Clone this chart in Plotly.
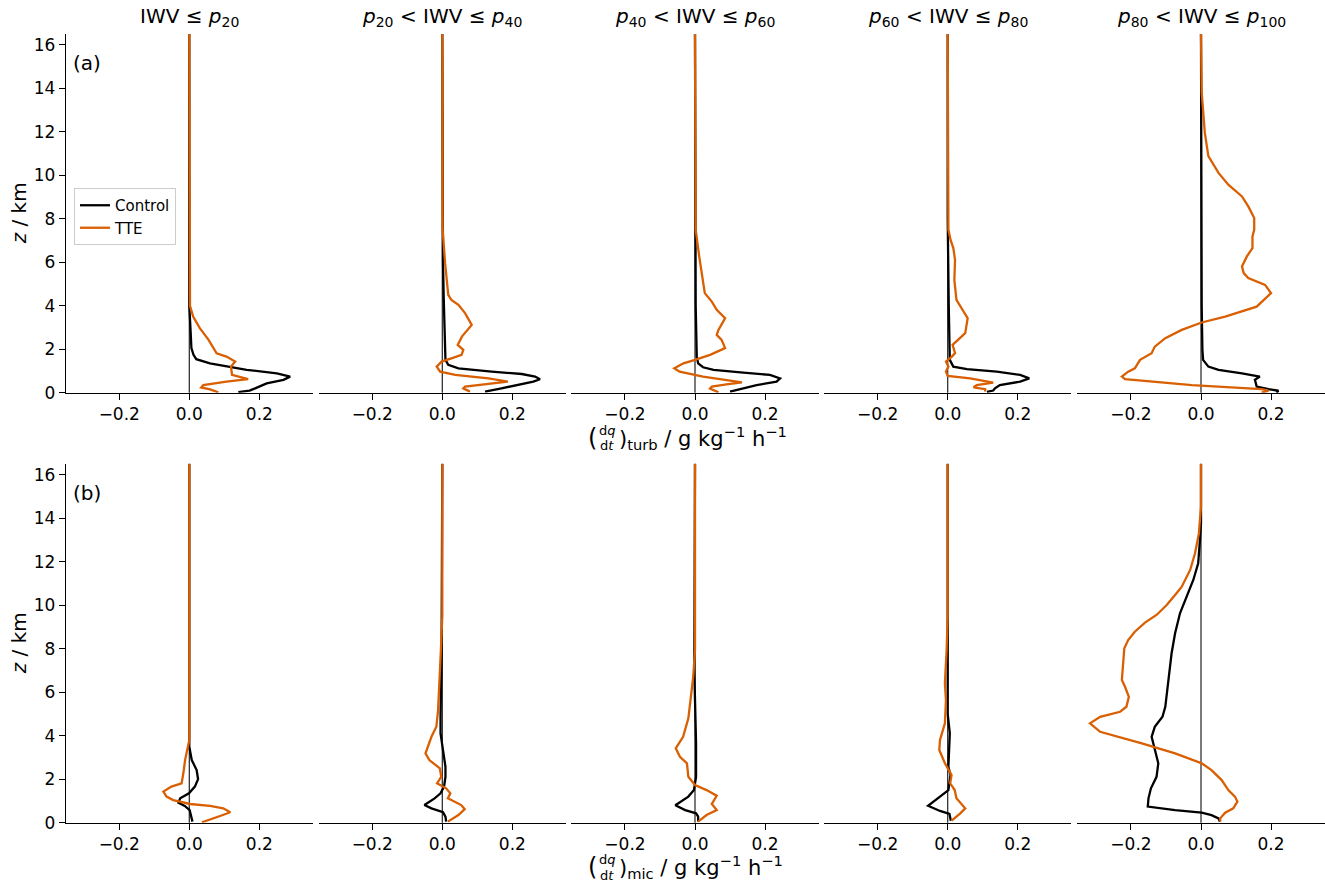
import plotly.graph_objects as go

# ---------------------------------------------------------------------------
# Profiles of moisture tendency vs height, binned by IWV percentile
# ---------------------------------------------------------------------------
bin_titles = [
    "IWV ≤ <i>p</i><sub>20</sub>",
    "<i>p</i><sub>20</sub> < IWV ≤ <i>p</i><sub>40</sub>",
    "<i>p</i><sub>40</sub> < IWV ≤ <i>p</i><sub>60</sub>",
    "<i>p</i><sub>60</sub> < IWV ≤ <i>p</i><sub>80</sub>",
    "<i>p</i><sub>80</sub> < IWV ≤ <i>p</i><sub>100</sub>",
]
x_ticks = [-0.2, 0.0, 0.2]
z_ticks = [0, 2, 4, 6, 8, 10, 12, 14, 16]

# ---- turbulence tendency (g kg-1 h-1) ----
turb_ctrl_p20_z = [16.5, 8, 4.0, 2.74, 2.05, 1.74, 1.54, 1.35, 1.2, 1.05, 0.89, 0.74, 0.59, 0.43, 0.2, 0.1, 0.03]
turb_ctrl_p20 = [0, 0, 0, 0.004, 0.006, 0.012, 0.02, 0.059, 0.106, 0.164, 0.25, 0.288, 0.269, 0.221, 0.188, 0.172, 0.14]
turb_tte_p20_z = [16.5, 8, 4.0, 3.5, 2.97, 2.43, 1.81, 1.66, 1.43, 1.2, 0.82, 0.62, 0.51, 0.35, 0.24, 0.15, 0.02]
turb_tte_p20 = [0, 0, 0.002, 0.011, 0.03, 0.055, 0.078, 0.106, 0.131, 0.119, 0.122, 0.168, 0.106, 0.04, 0.034, 0.059, 0.083]

turb_ctrl_p40_z = [16.5, 8, 6, 4.4, 2.5, 1.51, 1.28, 1.12, 0.97, 0.86, 0.74, 0.62, 0.51, 0.35, 0.2, 0.05]
turb_ctrl_p40 = [0, 0, 0.002, 0.004, 0.006, 0.009, 0.017, 0.046, 0.141, 0.227, 0.265, 0.279, 0.26, 0.208, 0.169, 0.122]
turb_tte_p40_z = [16.5, 7.5, 5.96, 5.19, 4.5, 4.27, 4.04, 3.66, 3.12, 2.58, 2.2, 1.97, 1.74, 1.58, 1.43, 1.2, 0.97, 0.82, 0.66, 0.51, 0.39, 0.28, 0.2, 0.05]
turb_tte_p40 = [0, 0.001, 0.008, 0.012, 0.017, 0.026, 0.046, 0.065, 0.084, 0.056, 0.044, 0.06, 0.055, 0.026, -0.002, -0.016, -0.006, 0.037, 0.132, 0.187, 0.113, 0.065, 0.06, 0.079]

turb_ctrl_p60_z = [16.5, 8, 4, 1.66, 1.35, 1.17, 1.05, 0.92, 0.82, 0.66, 0.51, 0.35, 0.2, 0.05]
turb_ctrl_p60 = [0, 0, 0.002, 0.005, 0.009, 0.023, 0.053, 0.138, 0.214, 0.243, 0.233, 0.176, 0.138, 0.1]
turb_tte_p60_z = [16.5, 7.5, 6.27, 5.19, 4.58, 4.19, 3.81, 3.43, 2.89, 2.66, 2.43, 2.05, 1.74, 1.51, 1.35, 1.12, 0.97, 0.74, 0.59, 0.48, 0.38, 0.28, 0.19, 0.02]
turb_tte_p60 = [0, 0.002, 0.012, 0.022, 0.028, 0.048, 0.062, 0.086, 0.067, 0.062, 0.076, 0.086, 0.043, 0, -0.033, -0.059, -0.044, 0.023, 0.09, 0.134, 0.09, 0.048, 0.043, 0.067]

turb_ctrl_p80_z = [16.5, 8, 4, 1.51, 1.2, 1.08, 0.97, 0.82, 0.66, 0.51, 0.35, 0.2, 0.1, 0.04]
turb_ctrl_p80 = [0, 0, 0.003, 0.006, 0.016, 0.055, 0.14, 0.207, 0.233, 0.207, 0.149, 0.135, 0.13, 0.112]
turb_tte_p80_z = [16.5, 10, 7.5, 7.04, 6.65, 6.11, 5.19, 4.27, 3.89, 3.43, 2.74, 2.43, 2.2, 1.82, 1.66, 1.43, 1.2, 0.97, 0.77, 0.66, 0.46, 0.35, 0.25, 0.16, 0.05]
turb_tte_p80 = [0, 0.001, 0.002, 0.008, 0.016, 0.021, 0.019, 0.025, 0.04, 0.057, 0.05, 0.03, 0.014, 0.021, 0.012, -0.005, 0.002, -0.005, 0, 0.064, 0.13, 0.083, 0.074, 0.107, 0.107]

turb_ctrl_p100_z = [16.5, 13, 8, 4, 1.97, 1.51, 1.2, 1.05, 0.89, 0.74, 0.59, 0.28, 0.16, 0.09, 0.0]
turb_ctrl_p100 = [0, 0, 0.001, 0.002, 0.004, 0.006, 0.021, 0.05, 0.117, 0.168, 0.154, 0.159, 0.193, 0.221, 0.216]
turb_tte_p100_z = [16.5, 13.8, 11.95, 10.88, 10.11, 9.57, 9.03, 8.57, 8.04, 7.5, 7.19, 6.65, 6.27, 5.81, 5.5, 5.27, 4.96, 4.58, 3.96, 3.5, 3.23, 2.89, 2.51, 2.12, 1.82, 1.51, 1.12, 0.97, 0.74, 0.62, 0.35, 0.16, 0.09, 0.0]
turb_tte_p100 = [0, 0.002, 0.011, 0.021, 0.05, 0.078, 0.117, 0.135, 0.152, 0.152, 0.147, 0.147, 0.131, 0.117, 0.122, 0.135, 0.183, 0.2, 0.159, 0.069, 0.002, -0.055, -0.102, -0.132, -0.141, -0.174, -0.189, -0.208, -0.226, -0.217, -0.026, 0.173, 0.193, 0.173]

# ---- microphysics tendency (g kg-1 h-1) ----
mic_ctrl_p20_z = [16.5, 3.49, 2.88, 2.42, 2.0, 1.66, 1.35, 1.12, 0.92, 0.77, 0.58, 0.28, 0.05]
mic_ctrl_p20 = [0, 0, 0.007, 0.021, 0.025, 0.016, -0.001, -0.026, -0.031, -0.013, 0.001, 0.006, 0.009]
mic_tte_p20_z = [16.5, 3.8, 3.34, 2.88, 2.27, 1.81, 1.66, 1.43, 1.2, 1.04, 0.86, 0.77, 0.66, 0.48, 0.31, 0.16, 0.02]
mic_tte_p20 = [0, 0, -0.006, -0.012, -0.017, -0.022, -0.051, -0.074, -0.065, -0.046, 0.002, 0.059, 0.097, 0.117, 0.088, 0.059, 0.036]

mic_ctrl_p40_z = [16.5, 7.94, 4.87, 4.11, 3.34, 2.57, 2.11, 1.66, 1.35, 1.12, 0.81, 0.66, 0.48, 0.28, 0.05]
mic_ctrl_p40 = [0, -0.002, -0.005, -0.005, 0.002, 0.009, 0.009, 0.005, -0.005, -0.022, -0.051, -0.031, 0.002, 0.009, 0.011]
mic_tte_p40_z = [16.5, 9.5, 7.94, 6.41, 5.18, 4.41, 3.95, 3.19, 2.88, 2.5, 2.11, 1.81, 1.58, 1.35, 1.12, 0.81, 0.62, 0.35, 0.05]
mic_tte_p40 = [0, 0, -0.004, -0.008, -0.012, -0.017, -0.031, -0.048, -0.037, -0.007, -0.003, -0.015, 0.011, 0.023, 0.016, 0.054, 0.064, 0.046, 0.016]

mic_ctrl_p60_z = [16.5, 7, 3.65, 2.11, 1.5, 1.2, 0.8, 0.58, 0.43, 0.28, 0.05]
mic_ctrl_p60 = [0, -0.002, 0.003, 0.003, -0.003, -0.019, -0.056, -0.028, 0.003, 0.009, 0.009]
mic_tte_p60_z = [16.5, 9.5, 7.94, 6.71, 5.64, 4.8, 3.95, 3.42, 3.03, 2.73, 2.11, 1.73, 1.5, 1.24, 0.86, 0.58, 0.35, 0.05]
mic_tte_p60 = [0, 0, 0, -0.005, -0.014, -0.019, -0.034, -0.055, -0.043, -0.023, -0.019, 0, 0.033, 0.062, 0.048, 0.062, 0.033, 0.009]

mic_ctrl_p80_z = [16.5, 7.94, 5, 4.11, 3.34, 2.57, 2.19, 1.5, 1.2, 0.78, 0.54, 0.4, 0.09]
mic_ctrl_p80 = [0, 0, 0, 0.006, 0.005, 0.002, 0.008, 0.002, -0.022, -0.056, -0.022, 0.005, 0.009]
mic_tte_p80_z = [16.5, 9.5, 7.94, 6.41, 5.64, 4.57, 3.8, 3.34, 2.73, 2.19, 1.81, 1.5, 1.12, 0.66, 0.43, 0.09]
mic_tte_p80 = [0, 0, -0.003, -0.008, -0.005, -0.008, -0.022, -0.024, -0.008, 0.011, 0.007, 0.02, 0.025, 0.05, 0.036, 0.011]

mic_ctrl_p100_z = [16.5, 13.77, 13.0, 11.93, 11.16, 10.39, 9.63, 8.71, 7.79, 6.56, 5.33, 4.87, 4.41, 3.95, 3.34, 2.73, 2.11, 1.58, 1.12, 0.74, 0.58, 0.46, 0.35, 0.2, 0.05]
mic_ctrl_p100 = [0, 0, -0.003, -0.008, -0.022, -0.041, -0.06, -0.074, -0.084, -0.093, -0.102, -0.11, -0.132, -0.141, -0.132, -0.122, -0.127, -0.143, -0.15, -0.152, -0.074, 0.002, 0.03, 0.05, 0.054]
mic_tte_p100_z = [16.5, 14.53, 13.3, 12.39, 11.62, 10.85, 10.47, 10.01, 9.55, 9.2, 8.78, 8.4, 8.02, 7.48, 6.56, 6.25, 5.79, 5.33, 5.1, 4.87, 4.57, 4.18, 3.65, 3.19, 2.88, 2.73, 2.42, 1.96, 1.5, 1.2, 0.97, 0.66, 0.46, 0.2, 0.05]
mic_tte_p100 = [0, 0, -0.006, -0.017, -0.031, -0.055, -0.074, -0.098, -0.127, -0.16, -0.189, -0.208, -0.219, -0.222, -0.226, -0.217, -0.206, -0.213, -0.231, -0.288, -0.317, -0.288, -0.169, -0.074, -0.022, 0.002, 0.03, 0.059, 0.078, 0.097, 0.104, 0.092, 0.069, 0.055, 0.055]

rows = [
    [
        (turb_ctrl_p20, turb_ctrl_p20_z, turb_tte_p20, turb_tte_p20_z),
        (turb_ctrl_p40, turb_ctrl_p40_z, turb_tte_p40, turb_tte_p40_z),
        (turb_ctrl_p60, turb_ctrl_p60_z, turb_tte_p60, turb_tte_p60_z),
        (turb_ctrl_p80, turb_ctrl_p80_z, turb_tte_p80, turb_tte_p80_z),
        (turb_ctrl_p100, turb_ctrl_p100_z, turb_tte_p100, turb_tte_p100_z),
    ],
    [
        (mic_ctrl_p20, mic_ctrl_p20_z, mic_tte_p20, mic_tte_p20_z),
        (mic_ctrl_p40, mic_ctrl_p40_z, mic_tte_p40, mic_tte_p40_z),
        (mic_ctrl_p60, mic_ctrl_p60_z, mic_tte_p60, mic_tte_p60_z),
        (mic_ctrl_p80, mic_ctrl_p80_z, mic_tte_p80, mic_tte_p80_z),
        (mic_ctrl_p100, mic_ctrl_p100_z, mic_tte_p100, mic_tte_p100_z),
    ],
]

# ---------------------------------------------------------------------------
# Layout geometry (pixels -> paper fractions)
# ---------------------------------------------------------------------------
W, H = 1325, 886
FONT = "DejaVu Sans"
CTRL_COLOR = "#000000"
TTE_COLOR = "#d95f02"
X_RANGE = [-0.353, 0.353]
Z_RANGE = [0, 16.5]
LINE_W = 2.3

col_zero_px = [189.3, 442.3, 695.0, 947.7, 1201.0]
half_w_px = 123.6
row_px = [(34.0, 392.7), (463.8, 822.7)]  # (top, bottom)


def px_x(v):
    return v / W


def px_y(v):
    return 1 - v / H


fig = go.Figure()
layout_axes = {}
shapes = []

for r, row in enumerate(rows):
    top, bot = row_px[r]
    for c, (ctrl, ctrl_z, tte, tte_z) in enumerate(row):
        idx = r * 5 + c + 1
        xa = "x" if idx == 1 else f"x{idx}"
        ya = "y" if idx == 1 else f"y{idx}"
        xkey = "xaxis" if idx == 1 else f"xaxis{idx}"
        ykey = "yaxis" if idx == 1 else f"yaxis{idx}"
        x0 = px_x(col_zero_px[c] - half_w_px)
        x1 = px_x(col_zero_px[c] + half_w_px)
        layout_axes[xkey] = dict(
            domain=[x0, x1], range=X_RANGE, anchor=ya, automargin=False,
            tickvals=x_ticks, tickformat=".1f",
            showline=True, linecolor="black", linewidth=1,
            ticks="outside", ticklen=6, tickwidth=1, tickcolor="black",
            showgrid=False, zeroline=False,
            tickfont=dict(family=FONT, size=17, color="black"),
        )
        first_col = c == 0
        layout_axes[ykey] = dict(
            domain=[px_y(bot), px_y(top)], range=Z_RANGE, anchor=xa,
            automargin=False,
            tickvals=z_ticks if first_col else [],
            showticklabels=first_col,
            showline=first_col, linecolor="black", linewidth=1,
            ticks="outside" if first_col else "", ticklen=6, tickwidth=1,
            tickcolor="black",
            showgrid=False, zeroline=False,
            tickfont=dict(family=FONT, size=17, color="black"),
        )
        shapes.append(dict(
            type="line", xref=xa, yref=f"{ya} domain",
            x0=0, x1=0, y0=0, y1=1, layer="below",
            line=dict(color="#222222", width=1.2),
        ))
        show = (r == 0 and c == 0)
        fig.add_trace(go.Scatter(
            x=ctrl, y=ctrl_z, mode="lines", name="Control",
            line=dict(color=CTRL_COLOR, width=LINE_W),
            xaxis=xa, yaxis=ya, showlegend=show, legendrank=1,
        ))
        fig.add_trace(go.Scatter(
            x=tte, y=tte_z, mode="lines", name="TTE",
            line=dict(color=TTE_COLOR, width=LINE_W),
            xaxis=xa, yaxis=ya, showlegend=show, legendrank=2,
        ))

annotations = []
# column titles
for c, title in enumerate(bin_titles):
    annotations.append(dict(
        text=title, x=px_x(col_zero_px[c]), y=px_y(17),
        xref="paper", yref="paper", showarrow=False,
        xanchor="center", yanchor="middle",
        font=dict(family=FONT, size=20, color="black"),
    ))

# panel labels
for label, ypx in (("(a)", 63), ("(b)", 493)):
    annotations.append(dict(
        text=label, x=px_x(71), y=px_y(ypx), xref="paper", yref="paper",
        showarrow=False, xanchor="left", yanchor="middle",
        font=dict(family=FONT, size=20, color="black"),
    ))

# vertical axis titles
for top, bot in row_px:
    annotations.append(dict(
        text="<i>z</i> / km", x=px_x(19), y=px_y((top + bot) / 2),
        xref="paper", yref="paper", showarrow=False, textangle=-90,
        xanchor="center", yanchor="middle",
        font=dict(family=FONT, size=20, color="black"),
    ))

# horizontal axis titles: (dq/dt)_process / g kg-1 h-1
for proc, ypx in (("turb", 438), ("mic", 867)):
    annotations.append(dict(
        text="(", x=px_x(598), y=px_y(ypx), xref="paper", yref="paper",
        showarrow=False, xanchor="right", yanchor="middle", borderpad=0,
        font=dict(family=FONT, size=24, color="black"),
    ))
    annotations.append(dict(
        text="d<i>q</i>", x=px_x(607), y=px_y(ypx - 8), xref="paper",
        yref="paper", showarrow=False, xanchor="center", yanchor="middle",
        borderpad=0, font=dict(family=FONT, size=13, color="black"),
    ))
    annotations.append(dict(
        text="d<i>t</i>", x=px_x(607), y=px_y(ypx + 8), xref="paper",
        yref="paper", showarrow=False, xanchor="center", yanchor="middle",
        borderpad=0, font=dict(family=FONT, size=13, color="black"),
    ))
    annotations.append(dict(
        text=f")<sub>{proc}</sub> / g kg<sup>−1</sup> h<sup>−1</sup>",
        x=px_x(618), y=px_y(ypx), xref="paper", yref="paper",
        showarrow=False, xanchor="left", yanchor="middle", borderpad=0,
        font=dict(family=FONT, size=21, color="black"),
    ))

fig.update_layout(
    width=W, height=H, autosize=False,
    margin=dict(l=0, r=0, t=0, b=0, pad=0),
    paper_bgcolor="white", plot_bgcolor="white",
    font=dict(family=FONT, color="black"),
    shapes=shapes, annotations=annotations,
    legend=dict(
        x=px_x(74), y=px_y(188), xanchor="left", yanchor="top",
        bgcolor="white", bordercolor="#cccccc", borderwidth=1,
        font=dict(family=FONT, size=15, color="black"),
        tracegroupgap=0,
    ),
    **layout_axes,
)

fig.write_html("out.html")
